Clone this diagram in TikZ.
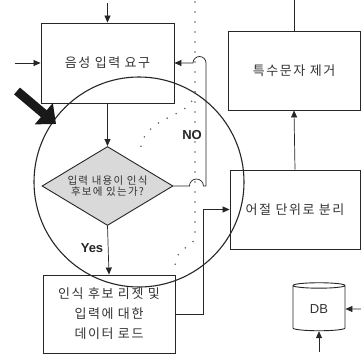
\documentclass[tikz,border=0pt]{standalone}
\usepackage{fontspec}
\newfontfamily\kr[LetterSpace=12]{Noto Sans CJK KR}
\newfontfamily\lat{Liberation Sans}
\usetikzlibrary{shapes.geometric,arrows.meta,positioning}

\begin{document}
\begin{tikzpicture}[
    x = 1pt, y = -1pt,
    every node/.style = {font = \kr\fontsize{13}{20}\selectfont, text = black!80, align = center},
    proc/.style = {draw = black!85, line width = 0.9pt, rectangle},
    decide/.style = {draw = black!85, line width = 0.9pt, diamond, fill = black!15,
        inner sep = 0pt, aspect = 1.66, minimum width = 131pt, minimum height = 79pt,
        font = \kr\fontsize{10.5}{11.5}\selectfont},
    store/.style = {cylinder, shape border rotate = 90, draw = black!85, line width = 0.9pt,
        minimum width = 52pt, minimum height = 48pt, aspect = 0.22,
        font = \lat\fontsize{13}{14}\selectfont},
    tag/.style = {font = \lat\bfseries\fontsize{13}{14}\selectfont, text = black!85},
    arr/.style = {draw = black!85, line width = 0.7pt, -{Triangle[length=7pt,width=6pt]}},
    flow/.style = {draw = black!85, line width = 0.7pt},
    dots/.style = {draw = black!60, line width = 1.8pt, line cap = round, dash pattern = on 0pt off 10pt}
]
\fill[white] (0,0) rectangle (361,356);
\useasboundingbox (0,0) rectangle (361,356);

\node [proc, minimum width = 133pt, minimum height = 80pt] (ask) at (107.5,63) {음성 입력 요구};
\node [decide] (check) at (107.5,186) {입력 내용이 인식\\후보에 있는가?};
\node [proc, minimum width = 132pt, minimum height = 78pt] (load) at (109,314) {인식 후보 리젯 및\\입력에 대한\\데이터 로드};
\node [proc, minimum width = 132pt, minimum height = 79pt] (strip) at (294,70.5) {특수문자 제거};
\node [proc, minimum width = 130pt, minimum height = 79pt] (split) at (295,209.5) {어절 단위로 분리};
\node [store] (db) at (319,309) {DB};
\node [tag] (yes) at (92,248) {Yes};
\node [tag] (no) at (192,135) {NO};
\node [circle, draw = black!85, line width = 1.1pt, minimum size = 210pt] (focus) at (139,182) {};

\coordinate (topin) at (107.5,3);
\coordinate (leftin) at (15,63);
\coordinate (stripin) at (294,0);
\coordinate (dbright) at (361,309);
\coordinate (dbbelow) at (319,352);

\draw[arr] (topin) -- (ask.north);
\draw[arr] (leftin) -- (ask.west);
\draw[arr] (ask.south) -- (check.north);
\draw[arr] (check.south) -- (load.north);
\draw[arr] (check.east) -- ++(16,0) arc[start angle = 180, end angle = 360, radius = 7]
    -- (206,186) -- (206,63) arc[start angle = 0, end angle = -180, radius = 6.5] -- (ask.east);
\draw[arr] (load.east) -- ++(28,0) |- (split.west);
\draw[arr] (split.north) -- (strip.south);
\draw[flow] (stripin) -- (strip.north);
\draw[arr] (dbright) -- (db.east);
\draw[arr] (dbbelow) -- (db.south);

% dotted lines
\coordinate (dtop) at (195,2);
\coordinate (dmid) at (195,92);
\draw[dots] (dtop) -- (195,235) .. controls (195,250) and (175,244) .. (175,268);
\draw[dots] (dmid) .. controls (191,122) and (140,112) .. (140,156);

% pointer
\coordinate (pa) at (17,91);
\coordinate (pb) at (56,124);
\draw[line width = 9pt, black!90, -{Triangle[length=16pt,width=27pt]}] (pa) -- (pb);
\end{tikzpicture}
\end{document}
